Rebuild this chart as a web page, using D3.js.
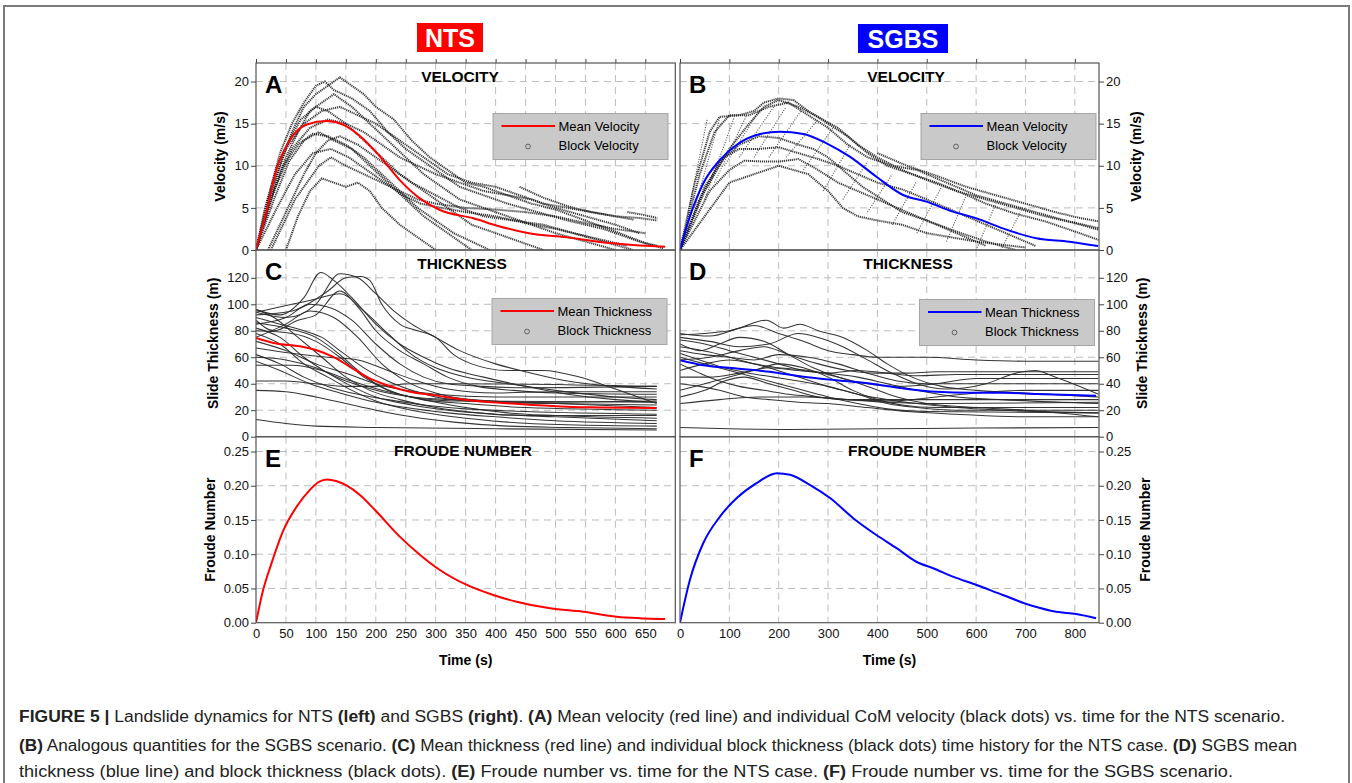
<!DOCTYPE html>
<html>
<head>
<meta charset="utf-8">
<script src="https://cdn.jsdelivr.net/npm/d3@7"></script>
<style>
  body { margin: 0; background: #fff; }
  svg { display: block; font-family: "Liberation Sans", Arial, sans-serif; }
  .tick text { font-size: 13px; fill: #111; }
  .tick line { stroke: #444; }
</style>
</head>
<body>
<svg id="fig" width="1352" height="783"></svg>
<script>
// ---- tick values ----
const ntsTimeTicks = [0, 50, 100, 150, 200, 250, 300, 350, 400, 450, 500, 550, 600, 650];
const sgbsTimeTicks = [0, 100, 200, 300, 400, 500, 600, 700, 800];
const velocityTicks = [0, 5, 10, 15, 20];
const thicknessTicks = [0, 20, 40, 60, 80, 100, 120];
const froudeTicks = [0, 0.05, 0.10, 0.15, 0.20, 0.25];

// ---- mean curves [time s, value] ----
const ntsMeanVelocity = [[0,0],[18,4.75],[34,9.5],[57,13.1],[85,14.9],[118,15.3],[146,14.85],[174,13.5],[207,11.1],[240,8.3],[274,6.1],[307,4.75],[363,3.76],[407,2.8],[463,1.9],[519,1.5],[574,0.95],[630,0.6],[683,0.4]];
const sgbsMeanVelocity = [[0,0],[20,3.96],[47,7.9],[81,10.7],[115,12.5],[155,13.66],[202,14.05],[250,13.78],[297,12.67],[344,11.08],[398,8.7],[452,6.53],[499,5.74],[553,4.55],[601,3.76],[654,2.57],[722,1.39],[789,0.99],[847,0.47]];
const ntsMeanThickness = [[0,74.6],[34,70.4],[73,68.3],[101,65.3],[129,60.3],[157,52.8],[185,45.2],[218,39],[257,33.9],[296,31.4],[351,27.7],[407,25.6],[463,23.9],[519,22.6],[574,22.1],[669,21.6]];
const sgbsMeanThickness = [[0,57.8],[47,54],[115,51.5],[182,49],[250,45.2],[317,42.7],[385,40.2],[452,36.5],[520,33.9],[587,33.2],[654,33.2],[722,32.2],[843,30.9]];
const ntsFroude = [[0,0],[12,0.048],[26,0.087],[46,0.1355],[68,0.1696],[90,0.194],[105,0.2055],[118,0.209],[135,0.2065],[151,0.2005],[174,0.1862],[201,0.1623],[240,0.1257],[274,0.099],[307,0.077],[352,0.0551],[396,0.0405],[435,0.0307],[491,0.021],[546,0.0161],[602,0.0088],[683,0.0054]];
const sgbsFroude = [[0,0],[20,0.0624],[47,0.116],[81,0.155],[115,0.182],[155,0.2038],[196,0.2184],[223,0.216],[263,0.2013],[304,0.182],[351,0.1526],[398,0.128],[439,0.1088],[479,0.089],[513,0.0795],[553,0.0672],[601,0.0551],[654,0.0405],[715,0.0244],[762,0.0161],[803,0.0127],[843,0.0064]];

// ---- block traces ----
const ntsBlockVelocity = [
  [[0,0],[20,5],[40,10],[60,14],[80,17],[100,18.5],[120,19.5],[140,20.5],[160,19.5],[180,18.5],[200,17],[230,15.5],[260,13],[290,11],[320,9.5],[350,8],[380,7.5],[420,6.5],[460,5.5],[500,4.8],[550,3.5],[600,2.2],[650,0.8],[680,0.2]],
  [[0,0],[20,6],[40,11.5],[60,15],[80,17.5],[100,19.5],[115,20],[130,19],[160,18],[190,16.5],[220,14],[250,12],[280,10.5],[310,9],[340,7.5],[380,6.5],[420,5.5],[470,4.5],[520,3.5],[580,2.5],[640,1],[670,0.5]],
  [[0,0],[25,6],[50,11],[70,14],[90,16.5],[110,17.5],[130,18.5],[160,17],[190,15],[220,13],[250,11],[280,9],[310,7.5],[340,6],[380,5],[420,4],[460,3],[500,2],[550,1],[600,0]],
  [[0,0],[15,5],[35,10],[55,13],[75,15.5],[100,17],[120,16.5],[150,15],[180,13],[210,11],[240,9],[270,7.5],[300,6],[330,4.5],[360,3],[400,2],[440,1],[480,0]],
  [[0,0],[20,5],[45,10],[70,12.5],[95,13.8],[120,13.5],[150,12.5],[180,11],[210,9],[240,7],[270,5],[300,3.5],[330,2],[360,1],[390,0]],
  [[0,0],[30,6],[55,10.5],[80,13],[105,14],[130,13],[160,12],[190,10],[220,8],[250,6],[280,4],[310,2.5],[340,1],[360,0]],
  [[20,0],[40,3],[60,6],[80,9],[100,11.5],[120,13],[140,13.5],[170,12.5],[200,11],[230,9.5],[260,8],[300,6.5],[340,5],[380,4],[430,3.5],[480,3],[530,2],[580,1],[630,0]],
  [[25,0],[45,3],[65,6],[85,8],[105,10],[125,11],[150,10],[180,9],[210,8],[240,7],[270,6],[300,5.5],[350,5],[400,4.8],[450,4.5],[500,4],[550,3.2],[600,2.5],[650,2]],
  [[0,0],[30,7],[60,12],[90,14.5],[120,15.5],[150,15],[180,14],[210,12.5],[240,11],[270,10],[300,9],[340,8],[380,7],[420,6.5],[460,6],[500,5],[550,4],[600,3],[640,2]],
  [[0,0],[25,7],[50,12],[80,15],[110,16.5],[140,17],[170,16],[200,15],[230,13.5],[260,12],[290,10.5],[320,9],[360,8],[400,7.5],[440,6.5],[480,5.5],[520,5],[560,4.5],[600,4],[640,3.8],[670,3.5]],
  [[50,0],[70,4],[90,7],[110,8.5],[130,8],[150,7.5],[170,8],[190,7],[210,5],[240,3],[270,1.5],[300,0]],
  [[0,0],[35,5],[65,9],[95,11.5],[125,12],[155,11],[185,9.5],[215,8],[245,6.5],[275,5.5],[310,5],[350,4.5],[400,4],[450,3.2],[500,2.5],[560,1.5],[620,0.5]],
  [[440,7.5],[480,6.2],[520,5.2],[560,4.5],[600,4],[630,3.6]],
  [[620,4.5],[645,4.2],[670,3.8]]
];
const sgbsBlockVelocity = [
  [[0,0],[30,8],[60,14],[80,15.8],[120,16],[150,16.5],[170,17.5],[200,18],[230,17.8],[260,16.5],[300,15],[340,13.5],[380,11.5],[420,10],[470,9],[520,8],[570,6.8],[620,5.5],[680,4.3],[740,3.4],[800,2.2],[848,1.2]],
  [[0,0],[50,7],[100,12],[140,15],[170,17],[200,17.8],[240,17],[280,15.8],[320,14.5],[360,12.5],[400,11],[450,9.5],[500,8.3],[560,7],[620,6],[680,5],[740,4],[800,3.2],[848,2.4]],
  [[0,0],[40,6],[80,10.5],[120,12.5],[160,13.5],[200,13.3],[240,12.5],[270,12],[300,11],[330,9.5],[370,7.5],[410,6],[450,4.5],[500,3.5],[560,2.2],[620,1],[680,0]],
  [[0,0],[50,7.5],[90,11],[120,12],[160,12],[200,12.2],[240,11.5],[280,10.8],[320,10],[360,9],[400,8],[450,7.2],[500,6],[560,4.5],[620,3],[680,1.5],[720,0.5]],
  [[0,0],[60,7],[100,9.5],[130,10.6],[170,10.5],[200,10.5],[240,10.8],[280,9.5],[320,8],[360,7],[400,6],[440,5],[500,3.5],[560,2],[620,0.5]],
  [[0,0],[100,8],[200,10],[260,9],[300,7],[330,5],[360,4],[400,3.5],[450,3],[500,2],[600,1],[700,0.3]],
  [[0,0],[40,9],[70,14],[100,16],[140,16],[180,17],[220,17.5],[260,16],[300,14.5],[340,12.5],[380,11],[430,10],[480,9.5],[540,8],[600,6.5],[660,5.5],[720,4.5],[780,3.5],[848,2.6]],
  [[400,11.5],[460,10],[520,8.8],[580,7.5],[640,6.5],[700,5.5],[760,4.5],[810,3.8],[848,3.4]]
];
const sgbsHatch = [
  [[15,4],[55,15.5]], [[30,5],[80,15.5]], [[50,6],[110,15.8]], [[70,8],[135,16]],
  [[90,10],[160,16.5]], [[120,11],[190,17]], [[150,11],[215,17]], [[180,11],[245,16.5]],
  [[215,11],[280,15.5]], [[250,9.5],[310,14.5]], [[290,7],[345,12.5]], [[330,6],[380,10.5]],
  [[380,4.5],[430,9]], [[430,3],[480,8.2]], [[480,2],[530,7.5]], [[540,1],[580,6.5]],
  [[600,0],[640,5.5]], [[650,0],[690,4.5]]
];
const ntsBlockThickness = [
  [[0,96],[40,92],[80,105],[108,124],[130,118],[160,105],[200,85],[240,70],[280,60],[320,52],[380,45],[450,38],[520,32],[600,28],[669,26]],
  [[0,94],[50,90],[100,100],[140,123],[170,120],[200,108],[230,95],[260,85],[300,75],[340,65],[400,55],[460,48],[520,42],[600,38],[669,36]],
  [[0,92],[60,95],[120,110],[150,120],[175,121],[190,118],[210,100],[240,85],[270,80],[300,75],[330,62],[360,55],[420,50],[480,50],[540,45],[600,36],[669,25]],
  [[0,90],[40,85],[80,80],[110,75],[140,65],[180,52],[220,42],[260,35],[300,30],[350,27],[400,26],[500,25],[669,24]],
  [[0,88],[30,80],[70,88],[100,92],[140,110],[170,98],[200,80],[240,65],[280,55],[320,45],[370,38],[430,35],[500,33],[669,32]],
  [[0,86],[50,82],[100,75],[140,62],[170,50],[200,40],[240,32],[290,27],[350,22],[420,18],[500,16],[669,14]],
  [[0,85],[50,90],[90,100],[120,98],[160,88],[200,70],[240,55],[280,45],[320,40],[380,38],[450,37],[669,38]],
  [[0,82],[40,75],[80,60],[120,48],[160,38],[200,30],[260,24],[320,20],[400,17],[500,15],[669,12]],
  [[0,80],[60,78],[100,72],[140,60],[180,45],[220,35],[280,28],[350,25],[450,22],[669,20]],
  [[0,78],[40,70],[80,55],[120,45],[160,35],[200,27],[260,20],[330,15],[420,11],[520,9],[669,8]],
  [[0,75],[50,85],[90,95],[130,90],[170,75],[210,55],[250,42],[300,33],[360,28],[450,26],[669,27]],
  [[0,72],[50,65],[100,55],[150,48],[200,40],[250,35],[300,32],[400,30],[669,30]],
  [[0,67],[60,63],[120,60],[170,58],[220,50],[270,42],[320,36],[400,33],[500,34],[669,34]],
  [[0,62],[40,55],[80,45],[120,38],[170,32],[220,28],[280,24],[350,21],[450,19],[669,17]],
  [[0,60],[50,58],[100,52],[150,42],[200,35],[260,30],[330,28],[450,26],[669,22]],
  [[0,57],[40,50],[90,40],[140,33],[190,27],[250,22],[320,18],[400,15],[500,12],[669,10]],
  [[0,54],[60,54],[110,50],[160,42],[210,35],[260,30],[330,27],[669,26]],
  [[0,42],[50,42],[100,40],[150,38],[200,38],[260,40],[330,40],[669,38]],
  [[0,35],[50,34],[100,30],[150,25],[200,20],[260,15],[330,11],[420,8],[520,7],[669,6]],
  [[0,13],[50,10],[100,8],[200,7],[400,6],[669,5]],
  [[0,96],[30,90],[70,75],[110,60],[150,45],[190,35],[240,28],[300,22],[370,18],[450,16],[669,16]],
  [[0,94],[60,100],[100,104],[140,108],[180,95],[220,78],[260,62],[300,52],[350,45],[420,40],[500,35],[600,30],[669,28]]
];
const sgbsBlockThickness = [
  [[0,78],[60,76],[120,82],[175,88],[210,82],[243,85],[280,80],[330,75],[380,65],[420,55],[470,45],[530,38],[600,35],[700,33],[848,30]],
  [[0,77],[50,78],[100,80],[150,84],[200,78],[250,72],[300,65],[350,62],[400,60],[450,60],[500,60],[600,58],[700,57],[848,57]],
  [[0,75],[60,72],[120,68],[180,70],[240,78],[280,75],[330,68],[380,58],[430,48],[480,40],[540,36],[620,40],[680,48],[720,50],[760,45],[848,32]],
  [[0,73],[50,70],[100,65],[150,60],[200,55],[250,50],[300,48],[360,45],[420,40],[480,35],[560,30],[650,28],[848,25]],
  [[0,70],[40,65],[80,70],[120,75],[170,72],[220,62],[270,52],[320,45],[380,40],[440,38],[520,40],[600,44],[700,44],[848,44]],
  [[0,68],[60,64],[120,58],[180,52],[240,45],[300,38],[360,32],[420,25],[480,22],[560,20],[848,20]],
  [[0,65],[50,62],[100,60],[150,58],[200,62],[260,60],[320,55],[380,48],[440,42],[500,40],[600,40],[848,40]],
  [[0,63],[40,58],[90,52],[140,48],[190,45],[240,42],[300,38],[360,32],[420,28],[480,25],[560,22],[650,20],[848,18]],
  [[0,60],[50,55],[100,50],[150,45],[200,40],[250,35],[300,30],[360,25],[420,21],[500,19],[848,18]],
  [[0,58],[60,60],[120,65],[170,68],[220,62],[280,55],[340,50],[400,48],[460,48],[520,49],[848,49]],
  [[0,55],[40,48],[80,42],[120,38],[170,35],[220,32],[280,30],[340,28],[420,26],[520,25],[848,26]],
  [[0,50],[50,55],[100,58],[150,55],[200,52],[260,50],[320,45],[380,38],[440,30],[500,25],[600,22],[700,20],[848,15]],
  [[0,45],[60,45],[120,48],[180,52],[240,50],[300,48],[360,50],[420,48],[480,46],[560,47],[848,47]],
  [[0,40],[40,38],[80,35],[130,30],[180,28],[240,26],[300,25],[380,22],[460,19],[560,17],[700,15],[848,15]],
  [[0,35],[50,40],[100,45],[150,50],[200,55],[250,52],[300,45],[350,35],[400,28],[450,24],[520,22],[848,22]],
  [[0,30],[50,35],[90,42],[130,45],[180,40],[230,35],[280,30],[340,28],[420,28],[848,28]],
  [[0,25],[80,28],[160,30],[250,30],[340,28],[430,27],[520,30],[600,33],[700,35],[848,35]],
  [[0,7],[100,6],[200,5.5],[400,6],[600,6.5],[848,7]]
];

// ---- layout ----
const svg = d3.select('#fig');
const cols = {
  nts: {x0: 256, x1: 675.3, domain: [0, 700], ticks: ntsTimeTicks, side: 'left'},
  sgbs: {x0: 680, x1: 1099, domain: [0, 849], ticks: sgbsTimeTicks, side: 'right'}
};
const rows = {
  vel: {y0: 63, y1: 250, domain: [0, 22.2], ticks: velocityTicks, fmt: d3.format('d'), title: 'VELOCITY', label: 'Velocity (m/s)'},
  thk: {y0: 250, y1: 436.7, domain: [0, 141], ticks: thicknessTicks, fmt: d3.format('d'), title: 'THICKNESS', label: 'Slide Thickness (m)'},
  fr: {y0: 436.7, y1: 622.7, domain: [0, 0.2716], ticks: froudeTicks, fmt: d3.format('.2f'), title: 'FROUDE NUMBER', label: 'Froude Number'}
};

svg.append('rect').attr('x', 4).attr('y', 6).attr('width', 1345).attr('height', 800)
  .attr('fill', 'none').attr('stroke', '#7a7a7a').attr('stroke-width', 2);

function drawPanel(col, row, opts) {
  const x = d3.scaleLinear().domain(col.domain).range([col.x0, col.x1]);
  const y = d3.scaleLinear().domain(row.domain).range([row.y1, row.y0]);
  const g = svg.append('g');
  const clipId = 'clip-' + opts.letter;
  svg.append('clipPath').attr('id', clipId).append('rect')
    .attr('x', col.x0).attr('y', row.y0).attr('width', col.x1 - col.x0).attr('height', row.y1 - row.y0);

  // grid
  g.selectAll('.vgrid').data(col.ticks.filter(d => d > 0)).enter().append('line')
    .attr('x1', d => x(d)).attr('x2', d => x(d)).attr('y1', row.y0).attr('y2', row.y1)
    .attr('stroke', '#bdbdbd').attr('stroke-dasharray', '7,5');
  g.selectAll('.hgrid').data(row.ticks.filter(d => d > 0)).enter().append('line')
    .attr('x1', col.x0).attr('x2', col.x1).attr('y1', d => y(d)).attr('y2', d => y(d))
    .attr('stroke', '#bdbdbd').attr('stroke-dasharray', '7,5');

  const plot = g.append('g').attr('clip-path', `url(#${clipId})`);
  const line = d3.line().x(d => x(d[0])).y(d => y(d[1]));
  const smooth = d3.line().x(d => x(d[0])).y(d => y(d[1])).curve(d3.curveMonotoneX);

  if (opts.hatch) {
    plot.selectAll('.hatch').data(opts.hatch).enter().append('path')
      .attr('d', line).attr('fill', 'none').attr('stroke', '#555')
      .attr('stroke-width', 1.2).attr('stroke-dasharray', '1,1.5');
  }
  if (opts.blocks) {
    plot.selectAll('.block').data(opts.blocks).enter().append('path')
      .attr('d', opts.dotted ? line : smooth)
      .attr('fill', 'none')
      .attr('stroke', opts.dotted ? '#1a1a1a' : '#2a2a2a')
      .attr('stroke-width', opts.dotted ? 2 : 1.05)
      .attr('stroke-dasharray', opts.dotted ? '1.2,0.8' : null)
      .attr('opacity', opts.dotted ? 0.85 : 0.95);
  }
  plot.append('path').datum(opts.mean).attr('d', smooth)
    .attr('fill', 'none').attr('stroke', opts.color).attr('stroke-width', 2);

  // frame
  g.append('rect').attr('x', col.x0).attr('y', row.y0)
    .attr('width', col.x1 - col.x0).attr('height', row.y1 - row.y0)
    .attr('fill', 'none').attr('stroke', '#555').attr('stroke-width', 1.2);

  // y axis
  const yAxis = (col.side === 'left' ? d3.axisLeft(y) : d3.axisRight(y))
    .tickValues(row.ticks).tickFormat(row.fmt).tickSize(5).tickPadding(2);
  const ya = g.append('g')
    .attr('transform', `translate(${col.side === 'left' ? col.x0 : col.x1},0)`)
    .call(yAxis);
  ya.select('.domain').remove();

  // top ticks on first row
  if (row === rows.vel) {
    const ta = g.append('g').attr('transform', `translate(0,${row.y0})`)
      .call(d3.axisTop(x).tickValues(col.ticks).tickSize(4).tickFormat(''));
    ta.select('.domain').remove();
  }
  // bottom labels on last row
  if (row === rows.fr) {
    const ba = g.append('g').attr('transform', `translate(0,${row.y1})`)
      .call(d3.axisBottom(x).tickValues(col.ticks).tickSize(0).tickPadding(6));
    ba.select('.domain').remove();
    g.append('text').attr('x', (col.x0 + col.x1) / 2).attr('y', 665)
      .attr('text-anchor', 'middle').attr('font-weight', 'bold').attr('font-size', 14)
      .text('Time (s)');
  }

  // axis label
  const ly = (row.y0 + row.y1) / 2;
  g.append('text').attr('transform', `translate(${opts.labelX},${ly}) rotate(-90)`)
    .attr('text-anchor', 'middle').attr('font-weight', 'bold').attr('font-size', 14)
    .attr('dy', '0.35em').text(row.label);

  // titles
  g.append('text').attr('x', opts.titleX).attr('y', row.y0 + 19)
    .attr('text-anchor', 'middle').attr('font-weight', 'bold').attr('font-size', 15.5)
    .text(row.title);
  g.append('text').attr('x', col.x0 + 9).attr('y', row.y0 + 30)
    .attr('font-weight', 'bold').attr('font-size', 24).text(opts.letter);

  // legend
  if (opts.legend) {
    const L = opts.legend;
    const lg = g.append('g');
    lg.append('rect').attr('x', L.x).attr('y', L.y).attr('width', 175).attr('height', 46)
      .attr('fill', '#c9c9c9').attr('stroke', '#a5a5a5');
    lg.append('line').attr('x1', L.x + 8.5).attr('x2', L.x + 62).attr('y1', L.y + 12.5).attr('y2', L.y + 12.5)
      .attr('stroke', opts.color).attr('stroke-width', 2);
    lg.append('circle').attr('cx', L.x + 35).attr('cy', L.y + 33).attr('r', 2.4)
      .attr('fill', 'none').attr('stroke', '#555').attr('stroke-width', 0.9);
    lg.append('text').attr('x', L.x + 65.5).attr('y', L.y + 17).attr('font-size', 13).text(L.names[0]);
    lg.append('text').attr('x', L.x + 65.5).attr('y', L.y + 36.5).attr('font-size', 13).text(L.names[1]);
  }
}

drawPanel(cols.nts, rows.vel, {letter: 'A', color: '#ff0000', mean: ntsMeanVelocity, blocks: ntsBlockVelocity, dotted: true,
  labelX: 220, titleX: 460, legend: {x: 493, y: 113.5, names: ['Mean Velocity', 'Block Velocity']}});
drawPanel(cols.sgbs, rows.vel, {letter: 'B', color: '#0000ff', mean: sgbsMeanVelocity, blocks: sgbsBlockVelocity, hatch: sgbsHatch, dotted: true,
  labelX: 1136, titleX: 906, legend: {x: 921, y: 113.5, names: ['Mean Velocity', 'Block Velocity']}});
drawPanel(cols.nts, rows.thk, {letter: 'C', color: '#ff0000', mean: ntsMeanThickness, blocks: ntsBlockThickness,
  labelX: 213, titleX: 462, legend: {x: 492, y: 298.5, names: ['Mean Thickness', 'Block Thickness']}});
drawPanel(cols.sgbs, rows.thk, {letter: 'D', color: '#0000ff', mean: sgbsMeanThickness, blocks: sgbsBlockThickness,
  labelX: 1142, titleX: 908, legend: {x: 919.5, y: 299.5, names: ['Mean Thickness', 'Block Thickness']}});
drawPanel(cols.nts, rows.fr, {letter: 'E', color: '#ff0000', mean: ntsFroude,
  labelX: 210, titleX: 463});
drawPanel(cols.sgbs, rows.fr, {letter: 'F', color: '#0000ff', mean: sgbsFroude,
  labelX: 1145, titleX: 917});

// scenario tags
const tags = [
  {name: 'NTS', x: 417, w: 66, y: 23, fill: '#ff0000'},
  {name: 'SGBS', x: 858, w: 90, y: 24, fill: '#0000ff'}
];
tags.forEach(t => {
  svg.append('rect').attr('x', t.x).attr('y', t.y).attr('width', t.w).attr('height', 29).attr('fill', t.fill);
  svg.append('text').attr('x', t.x + t.w / 2).attr('y', t.y + 24).attr('text-anchor', 'middle')
    .attr('fill', '#fff').attr('font-weight', 'bold').attr('font-size', 25).text(t.name);
});

// caption
const caption = [
  {y: 722, len: 1266, parts: [['FIGURE 5 | ', 1], ['Landslide dynamics for NTS ', 0], ['(left)', 1], [' and SGBS ', 0], ['(right)', 1], ['. ', 0], ['(A)', 1], [' Mean velocity (red line) and individual CoM velocity (black dots) vs. time for the NTS scenario.', 0]]},
  {y: 751, len: 1278, parts: [['(B)', 1], [' Analogous quantities for the SGBS scenario. ', 0], ['(C)', 1], [' Mean thickness (red line) and individual block thickness (black dots) time history for the NTS case. ', 0], ['(D)', 1], [' SGBS mean', 0]]},
  {y: 777, len: 1214, parts: [['thickness (blue line) and block thickness (black dots). ', 0], ['(E)', 1], [' Froude number vs. time for the NTS case. ', 0], ['(F)', 1], [' Froude number vs. time for the SGBS scenario.', 0]]}
];
caption.forEach(c => {
  const t = svg.append('text').attr('x', 19).attr('y', c.y).attr('font-size', 16)
    .attr('font-family', '"Liberation Sans Narrow", "Arial Narrow", "Liberation Sans", Arial, sans-serif')
    .attr('textLength', c.len).attr('lengthAdjust', 'spacingAndGlyphs').attr('fill', '#222');
  c.parts.forEach(p => {
    t.append('tspan').attr('font-weight', p[1] ? 'bold' : 'normal').text(p[0]);
  });
});
</script>
</body>
</html>
